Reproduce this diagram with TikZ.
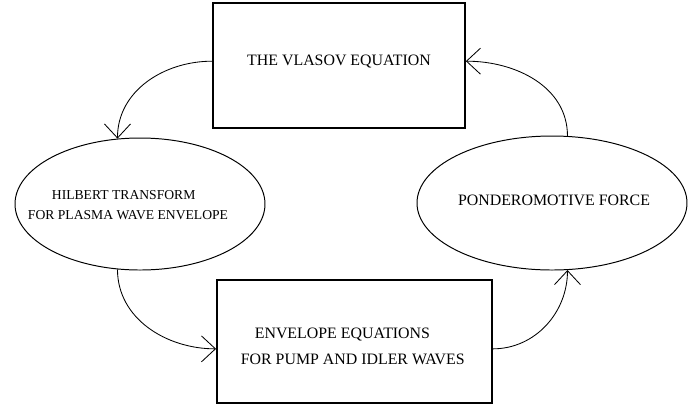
\documentclass[tikz,border=0pt]{standalone}
\usepackage{fontspec}
\setmainfont{Liberation Serif}
\usetikzlibrary{arrows.meta,shapes.geometric}
\begin{document}
\begin{tikzpicture}[>={Straight Barb[length=3.5mm,width=6.5mm]},
  box/.style={draw, line width=1.2pt, inner sep=0pt},
  oval/.style={draw, ellipse, line width=0.7pt, inner sep=0pt},
  txt/.style={align=left, inner sep=0pt, font=\fontsize{11.3}{18.4}\selectfont},
  smalltxt/.style={txt, font=\fontsize{9.7}{14.2}\selectfont}]
\useasboundingbox (0,0) rectangle (17.425,-10.175);
\node[box, minimum width=6.3cm, minimum height=3.125cm, label={[txt, yshift=0.11cm]center:THE VLASOV EQUATION}] (vlasov) at (8.475,-1.64) {};
\node[oval, minimum width=6.25cm, minimum height=3.3cm, label={[smalltxt, xshift=-0.3cm, yshift=-0.03cm]center:\hspace*{0.6cm}HILBERT TRANSFORM\\FOR PLASMA WAVE ENVELOPE}] (hilbert) at (3.5,-5.1) {};
\node[oval, minimum width=6.75cm, minimum height=3.35cm, label={[txt, xshift=0.05cm, yshift=0.07cm]center:PONDEROMOTIVE FORCE}] (ponder) at (13.8,-5.075) {};
\node[box, minimum width=6.875cm, minimum height=3.075cm, label={[txt, xshift=-0.04cm, yshift=-0.11cm]center:\hspace*{0.35cm}ENVELOPE EQUATIONS\\FOR PUMP AND IDLER WAVES}] (envelope) at (8.86,-8.54) {};
\draw[->, line width=0.6pt] (vlasov.178) to[out=180, in=90] (hilbert.109);
\draw[->, line width=0.6pt] (hilbert.-109) to[out=-90, in=180] (envelope.183);
\draw[->, line width=0.6pt] (envelope.-3) to[out=0, in=-90] (ponder.-77);
\draw[->, line width=0.6pt] (ponder.77) to[out=90, in=0] (vlasov.2);
\end{tikzpicture}
\end{document}
